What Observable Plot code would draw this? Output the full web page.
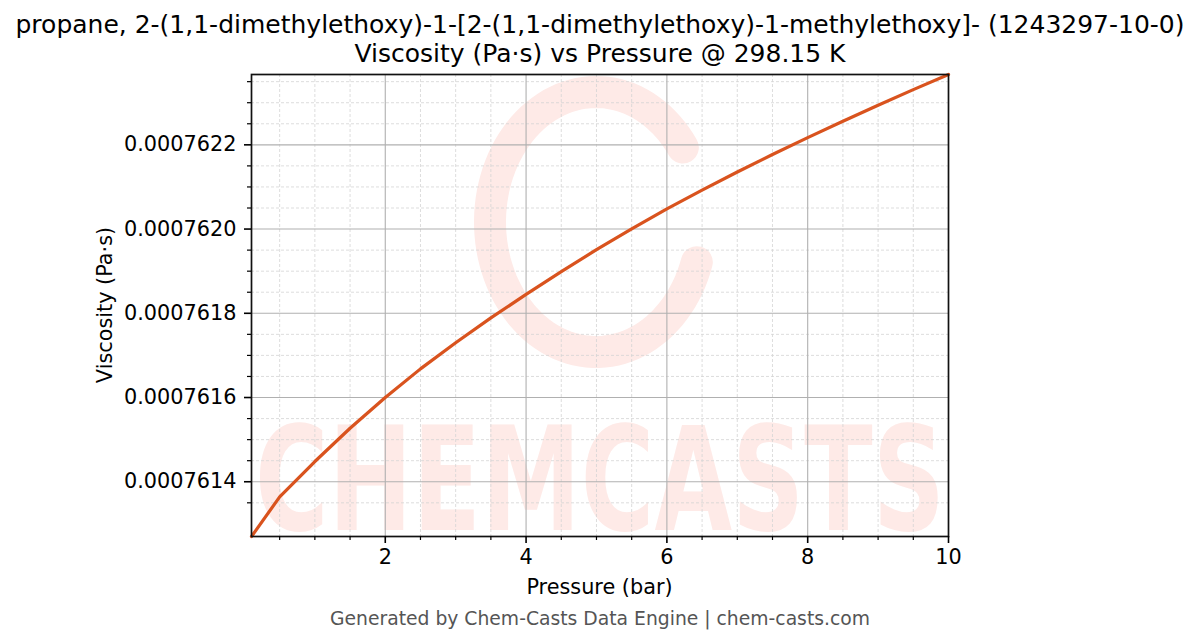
<!DOCTYPE html>
<html>
<head>
<meta charset="utf-8">
<script src="https://cdn.jsdelivr.net/npm/d3@7"></script>
<script src="https://cdn.jsdelivr.net/npm/@observablehq/plot@0.6"></script>
<style>
  html, body { margin: 0; padding: 0; background: #fff; }
  #chart svg { display: block; font-family: "DejaVu Sans", sans-serif; }
</style>
</head>
<body>
<div id="chart"></div>
<script>
// ---- data ----
const titleLine1 = "propane, 2-(1,1-dimethylethoxy)-1-[2-(1,1-dimethylethoxy)-1-methylethoxy]- (1243297-10-0)";
const titleLine2 = "Viscosity (Pa·s) vs Pressure @ 298.15 K";
const xLabel = "Pressure (bar)";
const yLabel = "Viscosity (Pa·s)";
const footer = "Generated by Chem-Casts Data Engine | chem-casts.com";
const watermark = "CHEMCASTS";

const pressure = [0.1, 0.5, 1.0, 1.5, 2.0, 2.5, 3.0, 3.5, 4.0, 4.5, 5.0, 5.5, 6.0, 6.5, 7.0, 7.5, 8.0, 8.5, 9.0, 9.5, 10.0];
const viscosity = [0.00076127, 0.000761364, 0.000761448, 0.000761527, 0.000761600, 0.000761668, 0.000761730,
  0.000761789, 0.000761845, 0.000761899, 0.000761951, 0.0007620005, 0.000762048, 0.0007620925, 0.0007621355,
  0.000762177, 0.000762217, 0.000762256, 0.000762294, 0.000762331, 0.000762367];

const xMajorTicks = [2, 4, 6, 8, 10];
const xMinorTicks = [0.5, 1, 1.5, 2.5, 3, 3.5, 4.5, 5, 5.5, 6.5, 7, 7.5, 8.5, 9, 9.5];
const yMajorTicks = [0.0007614, 0.0007616, 0.0007618, 0.0007620, 0.0007622];
const yMinorTicks = [0.00076135, 0.00076145, 0.0007615, 0.00076155, 0.00076165, 0.0007617, 0.00076175,
  0.00076185, 0.0007619, 0.00076195, 0.00076205, 0.0007621, 0.00076215, 0.00076225, 0.0007623, 0.00076235];

const data = pressure.map((p, i) => ({p, v: viscosity[i]}));

const W = 1200, H = 644;
const mL = 251, mR = 252, mT = 74, mB = 108;
const lineColor = "#d9531e";
const font = "DejaVu Sans";

const chart = Plot.plot({
  width: W, height: H,
  marginLeft: mL, marginRight: mR, marginTop: mT, marginBottom: mB,
  style: {fontFamily: font, fontSize: "20.8px", color: "#000", background: "#fff"},
  x: {domain: [pressure[0], pressure[pressure.length - 1]]},
  y: {domain: d3.extent(viscosity)},
  marks: [
    Plot.ruleX(xMinorTicks, {stroke: "#d4d4d4", strokeWidth: 0.8, strokeDasharray: "3,2"}),
    Plot.ruleY(yMinorTicks, {stroke: "#d4d4d4", strokeWidth: 0.8, strokeDasharray: "3,2"}),
    Plot.ruleX(xMajorTicks.filter(d => d < 10), {stroke: "#b0b0b0", strokeWidth: 1.1}),
    Plot.ruleY(yMajorTicks, {stroke: "#b0b0b0", strokeWidth: 1.1}),
    Plot.line(data, {x: "p", y: "v", stroke: lineColor, strokeWidth: 3.2}),
    Plot.frame({stroke: "#111", strokeWidth: 1.7}),
    Plot.axisX(xMajorTicks, {tickSize: 7, tickPadding: 6, tickFormat: d => String(d), label: null, fontSize: 20.8, strokeWidth: 1.6}),
    Plot.axisX(xMinorTicks, {tickSize: 4, text: null, label: null, strokeWidth: 1.2}),
    Plot.axisY(yMajorTicks, {tickSize: 7, tickPadding: 8, tickFormat: d3.format(".7f"), label: null, fontSize: 20.8, strokeWidth: 1.6}),
    Plot.axisY(yMinorTicks, {tickSize: 4, text: null, label: null, strokeWidth: 1.2})
  ]
});

document.getElementById("chart").appendChild(chart);

const svg = d3.select(chart);
const firstG = chart.querySelector("g");

// watermark (behind the grid)
const wm = document.createElementNS("http://www.w3.org/2000/svg", "g");
chart.insertBefore(wm, firstG);
const wmSel = d3.select(wm);
const cx = 596, cy = 222, rx = 106, ry = 130;
const a0 = -35 * Math.PI / 180, a1 = 18 * Math.PI / 180;
const pts = d3.range(0, 101).map(i => {
  const t = a0 - (i / 100) * (2 * Math.PI - (a1 - a0));
  return [cx + rx * Math.cos(t), cy + ry * Math.sin(t)];
});
wmSel.append("path")
  .attr("d", d3.line()(pts))
  .attr("fill", "none")
  .attr("stroke", "#feeae7")
  .attr("stroke-width", 32)
  .attr("stroke-linecap", "round");
wmSel.append("text")
  .attr("x", 255).attr("y", 530)
  .attr("text-anchor", "start")
  .attr("font-family", font).attr("font-weight", "bold")
  .attr("font-size", 145)
  .attr("textLength", 690).attr("lengthAdjust", "spacingAndGlyphs")
  .attr("fill", "#feeae7")
  .text(watermark);

// titles and labels
svg.append("text").attr("x", 600).attr("y", 33).attr("text-anchor", "middle")
  .attr("font-family", font).attr("font-size", 25).attr("fill", "#000").text(titleLine1);
svg.append("text").attr("x", 600).attr("y", 62).attr("text-anchor", "middle")
  .attr("font-family", font).attr("font-size", 25).attr("fill", "#000").text(titleLine2);
svg.append("text").attr("x", (mL + W - mR) / 2).attr("y", 594).attr("text-anchor", "middle")
  .attr("font-family", font).attr("font-size", 20.8).attr("fill", "#000").text(xLabel);
svg.append("text").attr("transform", `translate(112,${(mT + H - mB) / 2}) rotate(-90)`).attr("text-anchor", "middle")
  .attr("font-family", font).attr("font-size", 20.8).attr("fill", "#000").text(yLabel);
svg.append("text").attr("x", 600).attr("y", 625).attr("text-anchor", "middle")
  .attr("font-family", font).attr("font-size", 18.75).attr("fill", "#555").text(footer);
</script>
</body>
</html>
